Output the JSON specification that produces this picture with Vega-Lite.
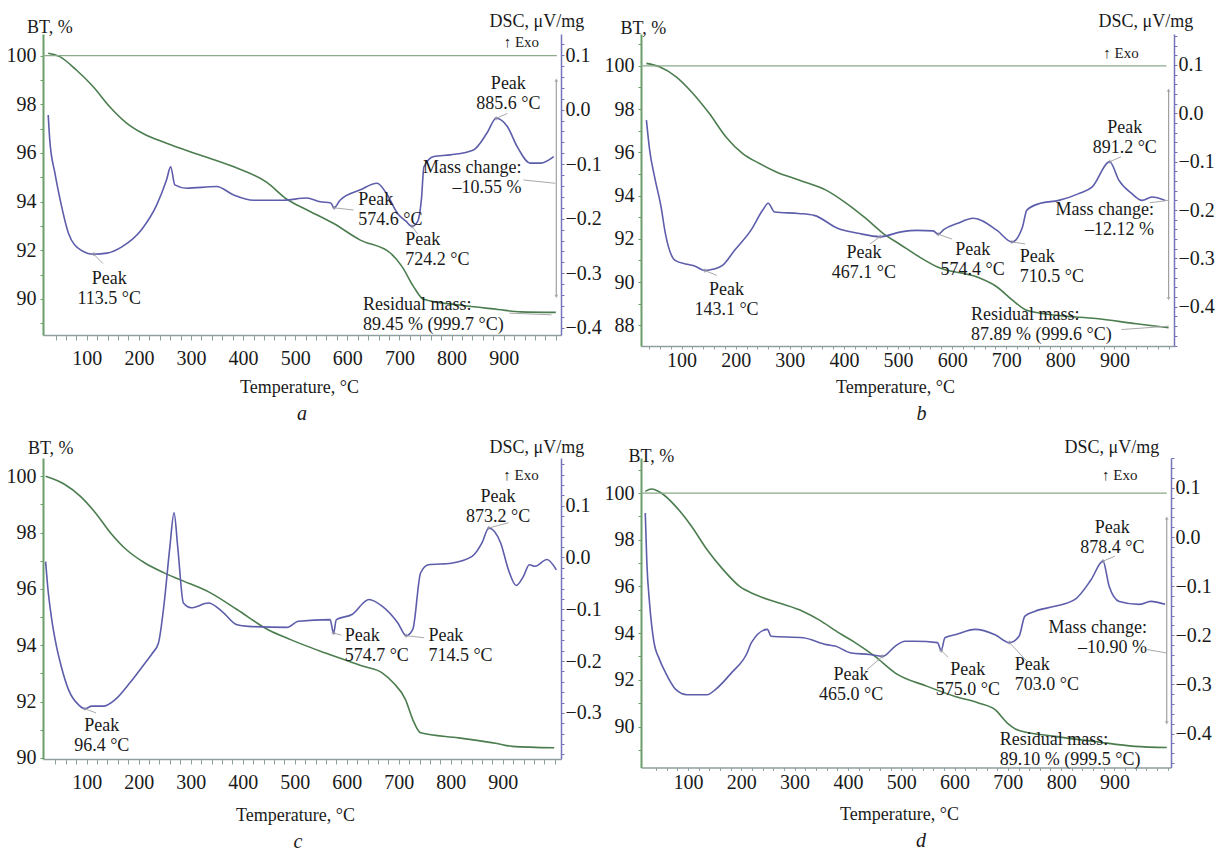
{
  "$schema": "https://vega.github.io/schema/vega-lite/v6.json",
  "background": "white",
  "padding": {"left": 6, "top": 12, "right": 5, "bottom": 0},
  "config": {"view": {"stroke": null}, "font": "Liberation Serif"},
  "bounds": "flush",
  "align": "each",
  "columns": 2,
  "spacing": {"row": 112, "column": 80},
  "concat": [
    {
      "width": 518, "height": 301,
      "title": {"text": "a", "orient": "bottom", "anchor": "middle", "frame": "group", "font": "Liberation Serif", "fontSize": 20, "fontStyle": "italic", "fontWeight": "normal", "color": "#1a1a1a", "baseline": "top", "offset": 8},
      "layer": [
        {
          "encoding": {
            "x": {"field": "T", "type": "quantitative", "scale": {"domain": [16, 1010], "nice": false, "zero": false},
                  "axis": {"title": "Temperature, °C", "titleX": 256, "titleY": 57, "titleBaseline": "alphabetic", "titleFont": "Liberation Serif", "titleFontSize": 18, "titleFontWeight": "normal", "titleColor": "#1a1a1a", "values": [40,60,80,100,120,140,160,180,200,220,240,260,280,300,320,340,360,380,400,420,440,460,480,500,520,540,560,580,600,620,640,660,680,700,720,740,760,780,800,820,840,860,880,900,920,940,960,980,1000], "format": "d", "labelExpr": "datum.value % 100 === 0 && datum.value < 1000 ? datum.label : ''", "labelFont": "Liberation Serif", "labelFontSize": 20, "labelColor": "#1a1a1a", "labelOverlap": false, "labelFlush": false, "labelPadding": 8, "tickSize": 5, "tickColor": "#8f9f9f", "domainColor": "#8f9f9f", "domainWidth": 1.5, "grid": false}},
            "y": {"field": "v", "type": "quantitative", "scale": {"domain": [88.52, 100.89], "nice": false, "zero": false},
                  "axis": {"orient": "left", "title": "BT, %", "titleAngle": 0, "titleAlign": "left", "titleBaseline": "alphabetic", "titleX": -16.5, "titleY": -2, "titleFont": "Liberation Serif", "titleFontSize": 18, "titleFontWeight": "normal", "titleColor": "#1a1a1a", "values": [89,90,91,92,93,94,95,96,97,98,99,100], "format": "d", "labelExpr": "datum.value % 2 === 0 ? datum.label : ''", "labelFont": "Liberation Serif", "labelFontSize": 20, "labelColor": "#1a1a1a", "labelOverlap": false, "labelFlush": false, "labelPadding": 4, "tickSize": 3, "tickColor": "#6a9e6a", "domainColor": "#6a9e6a", "domainWidth": 2, "grid": false}}
          },
          "layer": [
            {"data": {"name": "aBT"}, "mark": {"type": "line", "color": "#4b7d4f", "strokeWidth": 1.6, "interpolate": "monotone"}, "encoding": {}},
            {"data": {"name": "aTop"}, "mark": {"type": "rule", "color": "#8aaa8a", "strokeWidth": 1.3}, "encoding": {"x2": {"field": "T2"}}},
            {"data": {"name": "aMass"}, "mark": {"type": "rule", "color": "#a0a0a0", "strokeWidth": 1.2}, "encoding": {"y2": {"field": "v2"}}},
            {"data": {"name": "aMass"}, "mark": {"type": "point", "shape": "triangle-up", "filled": true, "size": 16, "color": "#a0a0a0"}, "encoding": {}},
            {"data": {"name": "aMass"}, "mark": {"type": "point", "shape": "triangle-down", "filled": true, "size": 16, "color": "#a0a0a0"},
             "encoding": {"y": {"field": "v2", "type": "quantitative", "scale": {"domain": [88.52, 100.89], "nice": false, "zero": false},
                  "axis": {"orient": "left", "title": "BT, %", "titleAngle": 0, "titleAlign": "left", "titleBaseline": "alphabetic", "titleX": -16.5, "titleY": -2, "titleFont": "Liberation Serif", "titleFontSize": 18, "titleFontWeight": "normal", "titleColor": "#1a1a1a", "values": [89,90,91,92,93,94,95,96,97,98,99,100], "format": "d", "labelExpr": "datum.value % 2 === 0 ? datum.label : ''", "labelFont": "Liberation Serif", "labelFontSize": 20, "labelColor": "#1a1a1a", "labelOverlap": false, "labelFlush": false, "labelPadding": 4, "tickSize": 3, "tickColor": "#6a9e6a", "domainColor": "#6a9e6a", "domainWidth": 2, "grid": false}}}}
          ]
        },
        {
          "encoding": {
            "x": {"field": "T", "type": "quantitative", "scale": {"domain": [16, 1010], "nice": false, "zero": false},
                  "axis": {"title": "Temperature, °C", "titleX": 256, "titleY": 57, "titleBaseline": "alphabetic", "titleFont": "Liberation Serif", "titleFontSize": 18, "titleFontWeight": "normal", "titleColor": "#1a1a1a", "values": [40,60,80,100,120,140,160,180,200,220,240,260,280,300,320,340,360,380,400,420,440,460,480,500,520,540,560,580,600,620,640,660,680,700,720,740,760,780,800,820,840,860,880,900,920,940,960,980,1000], "format": "d", "labelExpr": "datum.value % 100 === 0 && datum.value < 1000 ? datum.label : ''", "labelFont": "Liberation Serif", "labelFontSize": 20, "labelColor": "#1a1a1a", "labelOverlap": false, "labelFlush": false, "labelPadding": 8, "tickSize": 5, "tickColor": "#8f9f9f", "domainColor": "#8f9f9f", "domainWidth": 1.5, "grid": false}},
            "y": {"field": "v", "type": "quantitative", "scale": {"domain": [-0.413, 0.1385], "nice": false, "zero": false},
                  "axis": {"orient": "right", "title": "DSC, μV/mg", "titleAngle": 0, "titleAlign": "left", "titleBaseline": "alphabetic", "titleX": -72, "titleY": -8, "titleFont": "Liberation Serif", "titleFontSize": 18, "titleFontWeight": "normal", "titleColor": "#1a1a1a", "values": [-0.4,-0.38,-0.36,-0.34,-0.32,-0.3,-0.28,-0.26,-0.24,-0.22,-0.2,-0.18,-0.16,-0.14,-0.12,-0.1,-0.08,-0.06,-0.04,-0.02,0,0.02,0.04,0.06,0.08,0.1,0.12], "labelExpr": "abs(round(datum.value * 100)) % 10 === 0 ? format(datum.value, '.1f') : ''", "labelFont": "Liberation Serif", "labelFontSize": 20, "labelColor": "#1a1a1a", "labelOverlap": false, "labelFlush": false, "labelPadding": 1, "tickSize": 3, "tickColor": "#7474b8", "domainColor": "#7474b8", "domainWidth": 1.5, "grid": false}}
          },
          "layer": [
            {"data": {"name": "aDSC"}, "mark": {"type": "line", "color": "#5d5dab", "strokeWidth": 1.6, "interpolate": "monotone"}, "encoding": {}},
            {"data": {"name": "aLead"}, "mark": {"type": "rule", "color": "#a8a8a8", "strokeWidth": 1}, "encoding": {"x2": {"field": "T2"}, "y2": {"field": "v2"}}},
            {"data": {"name": "aLead"}, "transform": [{"filter": "datum.pk == 1"}], "mark": {"type": "point", "shape": "cross", "filled": true, "size": 14, "color": "#8a8aa0"}, "encoding": {}},
            {"data": {"name": "aTxtC"}, "mark": {"type": "text", "font": "Liberation Serif", "fontSize": 18, "lineBreak": "\n", "lineHeight": 20, "baseline": "top", "align": "center", "color": "#1a1a1a"}, "encoding": {"text": {"field": "txt", "type": "nominal"}}},
            {"data": {"name": "aTxtL"}, "mark": {"type": "text", "font": "Liberation Serif", "fontSize": 18, "lineBreak": "\n", "lineHeight": 20, "baseline": "top", "align": "left", "color": "#1a1a1a"}, "encoding": {"text": {"field": "txt", "type": "nominal"}}},
            {"data": {"name": "aTxtR"}, "mark": {"type": "text", "font": "Liberation Serif", "fontSize": 18, "lineBreak": "\n", "lineHeight": 20, "baseline": "top", "align": "right", "color": "#1a1a1a"}, "encoding": {"text": {"field": "txt", "type": "nominal"}}},
            {"data": {"name": "aExo"}, "mark": {"type": "text", "font": "Liberation Serif", "fontSize": 15, "baseline": "top", "align": "center", "color": "#1a1a1a"}, "encoding": {"text": {"field": "txt", "type": "nominal"}}}
          ]
        }
      ],
      "resolve": {"scale": {"y": "independent"}}
    },
    {
      "width": 533, "height": 312,
      "title": {"text": "b", "orient": "bottom", "anchor": "middle", "frame": "group", "font": "Liberation Serif", "fontSize": 20, "fontStyle": "italic", "fontWeight": "normal", "color": "#1a1a1a", "baseline": "top", "offset": 8, "dx": 14},
      "layer": [
        {
          "encoding": {
            "x": {"field": "T", "type": "quantitative", "scale": {"domain": [25, 1010], "nice": false, "zero": false},
                  "axis": {"title": "Temperature, °C", "titleX": 254, "titleY": 46, "titleBaseline": "alphabetic", "titleFont": "Liberation Serif", "titleFontSize": 18, "titleFontWeight": "normal", "titleColor": "#1a1a1a", "values": [40,60,80,100,120,140,160,180,200,220,240,260,280,300,320,340,360,380,400,420,440,460,480,500,520,540,560,580,600,620,640,660,680,700,720,740,760,780,800,820,840,860,880,900,920,940,960,980,1000], "format": "d", "labelExpr": "datum.value % 100 === 0 && datum.value < 1000 ? datum.label : ''", "labelFont": "Liberation Serif", "labelFontSize": 20, "labelColor": "#1a1a1a", "labelOverlap": false, "labelFlush": false, "labelPadding": 1, "tickSize": 3, "tickColor": "#8f9f9f", "domainColor": "#8f9f9f", "domainWidth": 1.5, "grid": false}},
            "y": {"field": "v", "type": "quantitative", "scale": {"domain": [87.04, 101.47], "nice": false, "zero": false},
                  "axis": {"orient": "left", "title": "BT, %", "titleAngle": 0, "titleAlign": "left", "titleBaseline": "alphabetic", "titleX": -21, "titleY": -1, "titleFont": "Liberation Serif", "titleFontSize": 18, "titleFontWeight": "normal", "titleColor": "#1a1a1a", "values": [88,89,90,91,92,93,94,95,96,97,98,99,100,101], "format": "d", "labelExpr": "datum.value % 2 === 0 ? datum.label : ''", "labelFont": "Liberation Serif", "labelFontSize": 20, "labelColor": "#1a1a1a", "labelOverlap": false, "labelFlush": false, "labelPadding": 4, "tickSize": 3, "tickColor": "#6a9e6a", "domainColor": "#6a9e6a", "domainWidth": 2, "grid": false}}
          },
          "layer": [
            {"data": {"name": "bBT"}, "mark": {"type": "line", "color": "#4b7d4f", "strokeWidth": 1.6, "interpolate": "monotone"}, "encoding": {}},
            {"data": {"name": "bTop"}, "mark": {"type": "rule", "color": "#8aaa8a", "strokeWidth": 1.3}, "encoding": {"x2": {"field": "T2"}}},
            {"data": {"name": "bMass"}, "mark": {"type": "rule", "color": "#a0a0a0", "strokeWidth": 1.2}, "encoding": {"y2": {"field": "v2"}}},
            {"data": {"name": "bMass"}, "mark": {"type": "point", "shape": "triangle-up", "filled": true, "size": 16, "color": "#a0a0a0"}, "encoding": {}},
            {"data": {"name": "bMass"}, "mark": {"type": "point", "shape": "triangle-down", "filled": true, "size": 16, "color": "#a0a0a0"},
             "encoding": {"y": {"field": "v2", "type": "quantitative", "scale": {"domain": [87.04, 101.47], "nice": false, "zero": false},
                  "axis": {"orient": "left", "title": "BT, %", "titleAngle": 0, "titleAlign": "left", "titleBaseline": "alphabetic", "titleX": -21, "titleY": -1, "titleFont": "Liberation Serif", "titleFontSize": 18, "titleFontWeight": "normal", "titleColor": "#1a1a1a", "values": [88,89,90,91,92,93,94,95,96,97,98,99,100,101], "format": "d", "labelExpr": "datum.value % 2 === 0 ? datum.label : ''", "labelFont": "Liberation Serif", "labelFontSize": 20, "labelColor": "#1a1a1a", "labelOverlap": false, "labelFlush": false, "labelPadding": 4, "tickSize": 3, "tickColor": "#6a9e6a", "domainColor": "#6a9e6a", "domainWidth": 2, "grid": false}}}}
          ]
        },
        {
          "encoding": {
            "x": {"field": "T", "type": "quantitative", "scale": {"domain": [25, 1010], "nice": false, "zero": false},
                  "axis": {"title": "Temperature, °C", "titleX": 254, "titleY": 46, "titleBaseline": "alphabetic", "titleFont": "Liberation Serif", "titleFontSize": 18, "titleFontWeight": "normal", "titleColor": "#1a1a1a", "values": [40,60,80,100,120,140,160,180,200,220,240,260,280,300,320,340,360,380,400,420,440,460,480,500,520,540,560,580,600,620,640,660,680,700,720,740,760,780,800,820,840,860,880,900,920,940,960,980,1000], "format": "d", "labelExpr": "datum.value % 100 === 0 && datum.value < 1000 ? datum.label : ''", "labelFont": "Liberation Serif", "labelFontSize": 20, "labelColor": "#1a1a1a", "labelOverlap": false, "labelFlush": false, "labelPadding": 1, "tickSize": 3, "tickColor": "#8f9f9f", "domainColor": "#8f9f9f", "domainWidth": 1.5, "grid": false}},
            "y": {"field": "v", "type": "quantitative", "scale": {"domain": [-0.481, 0.164], "nice": false, "zero": false},
                  "axis": {"orient": "right", "title": "DSC, μV/mg", "titleAngle": 0, "titleAlign": "left", "titleBaseline": "alphabetic", "titleX": -76, "titleY": -8, "titleFont": "Liberation Serif", "titleFontSize": 18, "titleFontWeight": "normal", "titleColor": "#1a1a1a", "values": [-0.48,-0.46,-0.44,-0.42,-0.4,-0.38,-0.36,-0.34,-0.32,-0.3,-0.28,-0.26,-0.24,-0.22,-0.2,-0.18,-0.16,-0.14,-0.12,-0.1,-0.08,-0.06,-0.04,-0.02,0,0.02,0.04,0.06,0.08,0.1,0.12,0.14,0.16], "labelExpr": "abs(round(datum.value * 100)) % 10 === 0 ? format(datum.value, '.1f') : ''", "labelFont": "Liberation Serif", "labelFontSize": 20, "labelColor": "#1a1a1a", "labelOverlap": false, "labelFlush": false, "labelPadding": 1, "tickSize": 3, "tickColor": "#7474b8", "domainColor": "#7474b8", "domainWidth": 1.5, "grid": false}}
          },
          "layer": [
            {"data": {"name": "bDSC"}, "mark": {"type": "line", "color": "#5d5dab", "strokeWidth": 1.6, "interpolate": "monotone"}, "encoding": {}},
            {"data": {"name": "bLead"}, "mark": {"type": "rule", "color": "#a8a8a8", "strokeWidth": 1}, "encoding": {"x2": {"field": "T2"}, "y2": {"field": "v2"}}},
            {"data": {"name": "bLead"}, "transform": [{"filter": "datum.pk == 1"}], "mark": {"type": "point", "shape": "cross", "filled": true, "size": 14, "color": "#8a8aa0"}, "encoding": {}},
            {"data": {"name": "bTxtC"}, "mark": {"type": "text", "font": "Liberation Serif", "fontSize": 18, "lineBreak": "\n", "lineHeight": 20, "baseline": "top", "align": "center", "color": "#1a1a1a"}, "encoding": {"text": {"field": "txt", "type": "nominal"}}},
            {"data": {"name": "bTxtL"}, "mark": {"type": "text", "font": "Liberation Serif", "fontSize": 18, "lineBreak": "\n", "lineHeight": 20, "baseline": "top", "align": "left", "color": "#1a1a1a"}, "encoding": {"text": {"field": "txt", "type": "nominal"}}},
            {"data": {"name": "bTxtR"}, "mark": {"type": "text", "font": "Liberation Serif", "fontSize": 18, "lineBreak": "\n", "lineHeight": 20, "baseline": "top", "align": "right", "color": "#1a1a1a"}, "encoding": {"text": {"field": "txt", "type": "nominal"}}},
            {"data": {"name": "bExo"}, "mark": {"type": "text", "font": "Liberation Serif", "fontSize": 15, "baseline": "top", "align": "center", "color": "#1a1a1a"}, "encoding": {"text": {"field": "txt", "type": "nominal"}}}
          ]
        }
      ],
      "resolve": {"scale": {"y": "independent"}}
    },
    {
      "width": 518, "height": 301,
      "title": {"text": "c", "orient": "bottom", "anchor": "middle", "frame": "group", "font": "Liberation Serif", "fontSize": 20, "fontStyle": "italic", "fontWeight": "normal", "color": "#1a1a1a", "baseline": "top", "offset": 8, "dx": -4},
      "layer": [
        {
          "encoding": {
            "x": {"field": "T", "type": "quantitative", "scale": {"domain": [16, 1012], "nice": false, "zero": false},
                  "axis": {"title": "Temperature, °C", "titleX": 252, "titleY": 61, "titleBaseline": "alphabetic", "titleFont": "Liberation Serif", "titleFontSize": 18, "titleFontWeight": "normal", "titleColor": "#1a1a1a", "values": [40,60,80,100,120,140,160,180,200,220,240,260,280,300,320,340,360,380,400,420,440,460,480,500,520,540,560,580,600,620,640,660,680,700,720,740,760,780,800,820,840,860,880,900,920,940,960,980,1000], "format": "d", "labelExpr": "datum.value % 100 === 0 && datum.value < 1000 ? datum.label : ''", "labelFont": "Liberation Serif", "labelFontSize": 20, "labelColor": "#1a1a1a", "labelOverlap": false, "labelFlush": false, "labelPadding": 8, "tickSize": 5, "tickColor": "#8f9f9f", "domainColor": "#8f9f9f", "domainWidth": 1.5, "grid": false}},
            "y": {"field": "v", "type": "quantitative", "scale": {"domain": [89.96, 100.65], "nice": false, "zero": false},
                  "axis": {"orient": "left", "title": "BT, %", "titleAngle": 0, "titleAlign": "left", "titleBaseline": "alphabetic", "titleX": -15.6, "titleY": -5, "titleFont": "Liberation Serif", "titleFontSize": 18, "titleFontWeight": "normal", "titleColor": "#1a1a1a", "values": [90,91,92,93,94,95,96,97,98,99,100], "format": "d", "labelExpr": "datum.value % 2 === 0 ? datum.label : ''", "labelFont": "Liberation Serif", "labelFontSize": 20, "labelColor": "#1a1a1a", "labelOverlap": false, "labelFlush": false, "labelPadding": 4, "tickSize": 3, "tickColor": "#6a9e6a", "domainColor": "#6a9e6a", "domainWidth": 2, "grid": false}}
          },
          "layer": [
            {"data": {"name": "cBT"}, "mark": {"type": "line", "color": "#4b7d4f", "strokeWidth": 1.6, "interpolate": "monotone"}, "encoding": {}}
          ]
        },
        {
          "encoding": {
            "x": {"field": "T", "type": "quantitative", "scale": {"domain": [16, 1012], "nice": false, "zero": false},
                  "axis": {"title": "Temperature, °C", "titleX": 252, "titleY": 61, "titleBaseline": "alphabetic", "titleFont": "Liberation Serif", "titleFontSize": 18, "titleFontWeight": "normal", "titleColor": "#1a1a1a", "values": [40,60,80,100,120,140,160,180,200,220,240,260,280,300,320,340,360,380,400,420,440,460,480,500,520,540,560,580,600,620,640,660,680,700,720,740,760,780,800,820,840,860,880,900,920,940,960,980,1000], "format": "d", "labelExpr": "datum.value % 100 === 0 && datum.value < 1000 ? datum.label : ''", "labelFont": "Liberation Serif", "labelFontSize": 20, "labelColor": "#1a1a1a", "labelOverlap": false, "labelFlush": false, "labelPadding": 8, "tickSize": 5, "tickColor": "#8f9f9f", "domainColor": "#8f9f9f", "domainWidth": 1.5, "grid": false}},
            "y": {"field": "v", "type": "quantitative", "scale": {"domain": [-0.389, 0.192], "nice": false, "zero": false},
                  "axis": {"orient": "right", "title": "DSC, μV/mg", "titleAngle": 0, "titleAlign": "left", "titleBaseline": "alphabetic", "titleX": -72, "titleY": -6, "titleFont": "Liberation Serif", "titleFontSize": 18, "titleFontWeight": "normal", "titleColor": "#1a1a1a", "values": [-0.38,-0.36,-0.34,-0.32,-0.3,-0.28,-0.26,-0.24,-0.22,-0.2,-0.18,-0.16,-0.14,-0.12,-0.1,-0.08,-0.06,-0.04,-0.02,0,0.02,0.04,0.06,0.08,0.1,0.12,0.14,0.16,0.18], "labelExpr": "abs(round(datum.value * 100)) % 10 === 0 ? format(datum.value, '.1f') : ''", "labelFont": "Liberation Serif", "labelFontSize": 20, "labelColor": "#1a1a1a", "labelOverlap": false, "labelFlush": false, "labelPadding": 1, "tickSize": 3, "tickColor": "#7474b8", "domainColor": "#7474b8", "domainWidth": 1.5, "grid": false}}
          },
          "layer": [
            {"data": {"name": "cDSC"}, "mark": {"type": "line", "color": "#5d5dab", "strokeWidth": 1.6, "interpolate": "monotone"}, "encoding": {}},
            {"data": {"name": "cLead"}, "mark": {"type": "rule", "color": "#a8a8a8", "strokeWidth": 1}, "encoding": {"x2": {"field": "T2"}, "y2": {"field": "v2"}}},
            {"data": {"name": "cLead"}, "transform": [{"filter": "datum.pk == 1"}], "mark": {"type": "point", "shape": "cross", "filled": true, "size": 14, "color": "#8a8aa0"}, "encoding": {}},
            {"data": {"name": "cTxtC"}, "mark": {"type": "text", "font": "Liberation Serif", "fontSize": 18, "lineBreak": "\n", "lineHeight": 20, "baseline": "top", "align": "center", "color": "#1a1a1a"}, "encoding": {"text": {"field": "txt", "type": "nominal"}}},
            {"data": {"name": "cTxtL"}, "mark": {"type": "text", "font": "Liberation Serif", "fontSize": 18, "lineBreak": "\n", "lineHeight": 20, "baseline": "top", "align": "left", "color": "#1a1a1a"}, "encoding": {"text": {"field": "txt", "type": "nominal"}}},
            {"data": {"name": "cExo"}, "mark": {"type": "text", "font": "Liberation Serif", "fontSize": 15, "baseline": "top", "align": "center", "color": "#1a1a1a"}, "encoding": {"text": {"field": "txt", "type": "nominal"}}}
          ]
        }
      ],
      "resolve": {"scale": {"y": "independent"}}
    },
    {
      "width": 530, "height": 309.4,
      "title": {"text": "d", "orient": "bottom", "anchor": "middle", "frame": "group", "font": "Liberation Serif", "fontSize": 20, "fontStyle": "italic", "fontWeight": "normal", "color": "#1a1a1a", "baseline": "top", "offset": 8, "dx": 15},
      "layer": [
        {
          "encoding": {
            "x": {"field": "T", "type": "quantitative", "scale": {"domain": [12, 1006], "nice": false, "zero": false},
                  "axis": {"title": "Temperature, °C", "titleX": 258, "titleY": 52, "titleBaseline": "alphabetic", "titleFont": "Liberation Serif", "titleFontSize": 18, "titleFontWeight": "normal", "titleColor": "#1a1a1a", "values": [40,60,80,100,120,140,160,180,200,220,240,260,280,300,320,340,360,380,400,420,440,460,480,500,520,540,560,580,600,620,640,660,680,700,720,740,760,780,800,820,840,860,880,900,920,940,960,980,1000], "format": "d", "labelExpr": "datum.value % 100 === 0 && datum.value < 1000 ? datum.label : ''", "labelFont": "Liberation Serif", "labelFontSize": 20, "labelColor": "#1a1a1a", "labelOverlap": false, "labelFlush": false, "labelPadding": 2, "tickSize": 3, "tickColor": "#8f9f9f", "domainColor": "#8f9f9f", "domainWidth": 1.5, "grid": false}},
            "y": {"field": "v", "type": "quantitative", "scale": {"domain": [88.25, 101.5], "nice": false, "zero": false},
                  "axis": {"orient": "left", "title": "BT, %", "titleAngle": 0, "titleAlign": "left", "titleBaseline": "alphabetic", "titleX": -13, "titleY": 3, "titleFont": "Liberation Serif", "titleFontSize": 18, "titleFontWeight": "normal", "titleColor": "#1a1a1a", "values": [89,90,91,92,93,94,95,96,97,98,99,100,101], "format": "d", "labelExpr": "datum.value % 2 === 0 ? datum.label : ''", "labelFont": "Liberation Serif", "labelFontSize": 20, "labelColor": "#1a1a1a", "labelOverlap": false, "labelFlush": false, "labelPadding": 4, "tickSize": 3, "tickColor": "#6a9e6a", "domainColor": "#6a9e6a", "domainWidth": 2, "grid": false}}
          },
          "layer": [
            {"data": {"name": "dBT"}, "mark": {"type": "line", "color": "#4b7d4f", "strokeWidth": 1.6, "interpolate": "monotone"}, "encoding": {}},
            {"data": {"name": "dTop"}, "mark": {"type": "rule", "color": "#8aaa8a", "strokeWidth": 1.3}, "encoding": {"x2": {"field": "T2"}}},
            {"data": {"name": "dMass"}, "mark": {"type": "rule", "color": "#a0a0a0", "strokeWidth": 1.2}, "encoding": {"y2": {"field": "v2"}}},
            {"data": {"name": "dMass"}, "mark": {"type": "point", "shape": "triangle-up", "filled": true, "size": 16, "color": "#a0a0a0"}, "encoding": {}},
            {"data": {"name": "dMass"}, "mark": {"type": "point", "shape": "triangle-down", "filled": true, "size": 16, "color": "#a0a0a0"},
             "encoding": {"y": {"field": "v2", "type": "quantitative", "scale": {"domain": [88.25, 101.5], "nice": false, "zero": false},
                  "axis": {"orient": "left", "title": "BT, %", "titleAngle": 0, "titleAlign": "left", "titleBaseline": "alphabetic", "titleX": -13, "titleY": 3, "titleFont": "Liberation Serif", "titleFontSize": 18, "titleFontWeight": "normal", "titleColor": "#1a1a1a", "values": [89,90,91,92,93,94,95,96,97,98,99,100,101], "format": "d", "labelExpr": "datum.value % 2 === 0 ? datum.label : ''", "labelFont": "Liberation Serif", "labelFontSize": 20, "labelColor": "#1a1a1a", "labelOverlap": false, "labelFlush": false, "labelPadding": 4, "tickSize": 3, "tickColor": "#6a9e6a", "domainColor": "#6a9e6a", "domainWidth": 2, "grid": false}}}}
          ]
        },
        {
          "encoding": {
            "x": {"field": "T", "type": "quantitative", "scale": {"domain": [12, 1006], "nice": false, "zero": false},
                  "axis": {"title": "Temperature, °C", "titleX": 258, "titleY": 52, "titleBaseline": "alphabetic", "titleFont": "Liberation Serif", "titleFontSize": 18, "titleFontWeight": "normal", "titleColor": "#1a1a1a", "values": [40,60,80,100,120,140,160,180,200,220,240,260,280,300,320,340,360,380,400,420,440,460,480,500,520,540,560,580,600,620,640,660,680,700,720,740,760,780,800,820,840,860,880,900,920,940,960,980,1000], "format": "d", "labelExpr": "datum.value % 100 === 0 && datum.value < 1000 ? datum.label : ''", "labelFont": "Liberation Serif", "labelFontSize": 20, "labelColor": "#1a1a1a", "labelOverlap": false, "labelFlush": false, "labelPadding": 2, "tickSize": 3, "tickColor": "#8f9f9f", "domainColor": "#8f9f9f", "domainWidth": 1.5, "grid": false}},
            "y": {"field": "v", "type": "quantitative", "scale": {"domain": [-0.469, 0.161], "nice": false, "zero": false},
                  "axis": {"orient": "right", "title": "DSC, μV/mg", "titleAngle": 0, "titleAlign": "left", "titleBaseline": "alphabetic", "titleX": -107, "titleY": -6, "titleFont": "Liberation Serif", "titleFontSize": 18, "titleFontWeight": "normal", "titleColor": "#1a1a1a", "values": [-0.46,-0.44,-0.42,-0.4,-0.38,-0.36,-0.34,-0.32,-0.3,-0.28,-0.26,-0.24,-0.22,-0.2,-0.18,-0.16,-0.14,-0.12,-0.1,-0.08,-0.06,-0.04,-0.02,0,0.02,0.04,0.06,0.08,0.1,0.12,0.14,0.16], "labelExpr": "abs(round(datum.value * 100)) % 10 === 0 ? format(datum.value, '.1f') : ''", "labelFont": "Liberation Serif", "labelFontSize": 20, "labelColor": "#1a1a1a", "labelOverlap": false, "labelFlush": false, "labelPadding": 1, "tickSize": 3, "tickColor": "#7474b8", "domainColor": "#7474b8", "domainWidth": 1.5, "grid": false}}
          },
          "layer": [
            {"data": {"name": "dDSC"}, "mark": {"type": "line", "color": "#5d5dab", "strokeWidth": 1.6, "interpolate": "monotone"}, "encoding": {}},
            {"data": {"name": "dLead"}, "mark": {"type": "rule", "color": "#a8a8a8", "strokeWidth": 1}, "encoding": {"x2": {"field": "T2"}, "y2": {"field": "v2"}}},
            {"data": {"name": "dLead"}, "transform": [{"filter": "datum.pk == 1"}], "mark": {"type": "point", "shape": "cross", "filled": true, "size": 14, "color": "#8a8aa0"}, "encoding": {}},
            {"data": {"name": "dTxtC"}, "mark": {"type": "text", "font": "Liberation Serif", "fontSize": 18, "lineBreak": "\n", "lineHeight": 20, "baseline": "top", "align": "center", "color": "#1a1a1a"}, "encoding": {"text": {"field": "txt", "type": "nominal"}}},
            {"data": {"name": "dTxtL"}, "mark": {"type": "text", "font": "Liberation Serif", "fontSize": 18, "lineBreak": "\n", "lineHeight": 20, "baseline": "top", "align": "left", "color": "#1a1a1a"}, "encoding": {"text": {"field": "txt", "type": "nominal"}}},
            {"data": {"name": "dTxtR"}, "mark": {"type": "text", "font": "Liberation Serif", "fontSize": 18, "lineBreak": "\n", "lineHeight": 20, "baseline": "top", "align": "right", "color": "#1a1a1a"}, "encoding": {"text": {"field": "txt", "type": "nominal"}}},
            {"data": {"name": "dExo"}, "mark": {"type": "text", "font": "Liberation Serif", "fontSize": 15, "baseline": "top", "align": "center", "color": "#1a1a1a"}, "encoding": {"text": {"field": "txt", "type": "nominal"}}}
          ]
        }
      ],
      "resolve": {"scale": {"y": "independent"}}
    }
  ],
  "datasets": {
    "aBT": [{"T":26,"v":100.1},{"T":48,"v":99.96},{"T":80,"v":99.41},{"T":112,"v":98.73},{"T":144,"v":97.9},{"T":177,"v":97.22},{"T":208,"v":96.8},{"T":253,"v":96.4},{"T":317,"v":95.92},{"T":381,"v":95.44},{"T":445,"v":94.8},{"T":484,"v":94.1},{"T":521,"v":93.68},{"T":573,"v":93.11},{"T":624,"v":92.43},{"T":683,"v":91.88},{"T":705,"v":91.33},{"T":727,"v":90.51},{"T":746,"v":89.99},{"T":815,"v":89.75},{"T":889,"v":89.57},{"T":933,"v":89.47},{"T":1000,"v":89.45}],
    "aDSC": [{"T":26,"v":-0.01},{"T":29,"v":-0.056},{"T":39,"v":-0.117},{"T":50,"v":-0.17},{"T":65,"v":-0.227},{"T":88,"v":-0.257},{"T":113.5,"v":-0.265},{"T":139,"v":-0.263},{"T":168,"v":-0.251},{"T":205,"v":-0.22},{"T":234,"v":-0.175},{"T":253,"v":-0.129},{"T":261,"v":-0.105},{"T":269,"v":-0.138},{"T":291,"v":-0.144},{"T":349,"v":-0.141},{"T":381,"v":-0.156},{"T":420,"v":-0.166},{"T":477,"v":-0.166},{"T":522,"v":-0.162},{"T":548,"v":-0.169},{"T":568,"v":-0.171},{"T":574.6,"v":-0.18},{"T":586,"v":-0.166},{"T":625,"v":-0.147},{"T":657,"v":-0.135},{"T":676,"v":-0.155},{"T":696,"v":-0.19},{"T":713,"v":-0.205},{"T":724.2,"v":-0.214},{"T":735,"v":-0.205},{"T":742,"v":-0.166},{"T":747,"v":-0.105},{"T":766,"v":-0.086},{"T":798,"v":-0.083},{"T":842,"v":-0.074},{"T":868,"v":-0.043},{"T":885.6,"v":-0.016},{"T":907,"v":-0.031},{"T":926,"v":-0.068},{"T":951,"v":-0.098},{"T":971,"v":-0.098},{"T":996,"v":-0.086}],
    "aTop": [{"T":16,"T2":1002,"v":100}],
    "aMass": [{"T":1001,"v":99.0,"v2":90.1}],
    "aLead": [{"T":113.5,"v":-0.265,"T2":131,"v2":-0.282,"pk":1},{"T":574.6,"v":-0.18,"T2":612,"v2":-0.184,"pk":1},{"T":724.2,"v":-0.214,"T2":735,"v2":-0.228,"pk":1},{"T":885.6,"v":-0.016,"T2":907,"v2":-0.007,"pk":1},{"T":938,"v":-0.129,"T2":999,"v2":-0.135,"pk":0},{"T":911,"v":-0.373,"T2":992,"v2":-0.376,"pk":0}],
    "aTxtC": [{"T":143,"v":-0.293,"txt":"Peak\n113.5 °C"},{"T":909,"v":0.064,"txt":"Peak\n885.6 °C"}],
    "aTxtL": [{"T":621,"v":-0.149,"txt":"Peak\n574.6 °C"},{"T":711,"v":-0.222,"txt":"Peak\n724.2 °C"},{"T":630,"v":-0.341,"txt":"Residual mass:\n89.45 % (999.7 °C)"}],
    "aTxtR": [{"T":934,"v":-0.091,"txt":"Mass change:\n–10.55 %"}],
    "aExo": [{"T":934,"v":0.137,"txt":"↑ Exo"}],
    "bBT": [{"T":35,"v":100.11},{"T":59,"v":99.95},{"T":90,"v":99.49},{"T":121,"v":98.72},{"T":151,"v":97.8},{"T":182,"v":96.71},{"T":213,"v":95.94},{"T":244,"v":95.48},{"T":275,"v":95.09},{"T":318,"v":94.71},{"T":367,"v":94.25},{"T":404,"v":93.65},{"T":440,"v":92.95},{"T":470,"v":92.3},{"T":506,"v":91.7},{"T":540,"v":91.15},{"T":573,"v":90.69},{"T":646,"v":90.23},{"T":683,"v":89.77},{"T":712,"v":89.15},{"T":738,"v":88.69},{"T":793,"v":88.46},{"T":866,"v":88.31},{"T":940,"v":88.07},{"T":1000,"v":87.89}],
    "bDSC": [{"T":35,"v":-0.014},{"T":41,"v":-0.076},{"T":50,"v":-0.131},{"T":62,"v":-0.193},{"T":70,"v":-0.248},{"T":88,"v":-0.304},{"T":110,"v":-0.312},{"T":125,"v":-0.316},{"T":143.1,"v":-0.325},{"T":160,"v":-0.322},{"T":175,"v":-0.315},{"T":198,"v":-0.283},{"T":228,"v":-0.242},{"T":250,"v":-0.2},{"T":260,"v":-0.186},{"T":272,"v":-0.204},{"T":316,"v":-0.207},{"T":345,"v":-0.211},{"T":389,"v":-0.238},{"T":426,"v":-0.248},{"T":467.1,"v":-0.255},{"T":506,"v":-0.245},{"T":536,"v":-0.242},{"T":565,"v":-0.243},{"T":574.4,"v":-0.25},{"T":585,"v":-0.24},{"T":609,"v":-0.228},{"T":639,"v":-0.217},{"T":683,"v":-0.242},{"T":710.5,"v":-0.266},{"T":730,"v":-0.235},{"T":738,"v":-0.2},{"T":763,"v":-0.186},{"T":797,"v":-0.18},{"T":834,"v":-0.166},{"T":859,"v":-0.152},{"T":891.2,"v":-0.1},{"T":908,"v":-0.138},{"T":932,"v":-0.166},{"T":951,"v":-0.18},{"T":969,"v":-0.173},{"T":994,"v":-0.18}],
    "bTop": [{"T":25,"T2":996,"v":100}],
    "bMass": [{"T":1000,"v":98.88,"v2":89.23}],
    "bLead": [{"T":143.1,"v":-0.325,"T2":165,"v2":-0.335,"pk":1},{"T":467.1,"v":-0.255,"T2":448,"v2":-0.27,"pk":1},{"T":574.4,"v":-0.25,"T2":600,"v2":-0.26,"pk":1},{"T":710.5,"v":-0.266,"T2":735,"v2":-0.27,"pk":1},{"T":891.2,"v":-0.1,"T2":912,"v2":-0.09,"pk":1},{"T":965,"v":-0.185,"T2":999,"v2":-0.18,"pk":0},{"T":913,"v":-0.447,"T2":1000,"v2":-0.44,"pk":0}],
    "bTxtC": [{"T":183,"v":-0.347,"txt":"Peak\n143.1 °C"},{"T":437,"v":-0.271,"txt":"Peak\n467.1 °C"},{"T":638,"v":-0.264,"txt":"Peak\n574.4 °C"},{"T":919,"v":-0.012,"txt":"Peak\n891.2 °C"}],
    "bTxtL": [{"T":725,"v":-0.278,"txt":"Peak\n710.5 °C"},{"T":635,"v":-0.399,"txt":"Residual mass:\n87.89 % (999.6 °C)"}],
    "bTxtR": [{"T":973,"v":-0.181,"txt":"Mass change:\n–12.12 %"}],
    "bExo": [{"T":912,"v":0.139,"txt":"↑ Exo"}],
    "cBT": [{"T":21,"v":100.0},{"T":58,"v":99.71},{"T":88,"v":99.29},{"T":117,"v":98.7},{"T":146,"v":97.99},{"T":176,"v":97.4},{"T":212,"v":96.92},{"T":249,"v":96.57},{"T":279,"v":96.33},{"T":338,"v":95.86},{"T":389,"v":95.27},{"T":448,"v":94.56},{"T":492,"v":94.2},{"T":558,"v":93.73},{"T":632,"v":93.25},{"T":668,"v":93.02},{"T":690,"v":92.66},{"T":713,"v":92.07},{"T":727,"v":91.36},{"T":742,"v":90.89},{"T":815,"v":90.71},{"T":889,"v":90.51},{"T":918,"v":90.41},{"T":999,"v":90.36}],
    "cDSC": [{"T":21,"v":-0.008},{"T":25,"v":-0.056},{"T":32,"v":-0.114},{"T":40,"v":-0.162},{"T":51,"v":-0.21},{"T":65,"v":-0.255},{"T":85,"v":-0.285},{"T":96.4,"v":-0.292},{"T":110,"v":-0.287},{"T":132,"v":-0.287},{"T":154,"v":-0.275},{"T":183,"v":-0.242},{"T":212,"v":-0.204},{"T":227,"v":-0.184},{"T":238,"v":-0.165},{"T":249,"v":-0.088},{"T":260,"v":0.021},{"T":268,"v":0.086},{"T":275,"v":0.021},{"T":286,"v":-0.088},{"T":301,"v":-0.097},{"T":334,"v":-0.088},{"T":360,"v":-0.104},{"T":389,"v":-0.13},{"T":411,"v":-0.133},{"T":485,"v":-0.135},{"T":507,"v":-0.123},{"T":568,"v":-0.12},{"T":574.7,"v":-0.146},{"T":580,"v":-0.12},{"T":610,"v":-0.11},{"T":643,"v":-0.081},{"T":668,"v":-0.094},{"T":698,"v":-0.126},{"T":714.5,"v":-0.151},{"T":727,"v":-0.139},{"T":742,"v":-0.03},{"T":757,"v":-0.014},{"T":801,"v":-0.011},{"T":841,"v":0.002},{"T":860,"v":0.028},{"T":873.2,"v":0.057},{"T":896,"v":0.028},{"T":911,"v":-0.024},{"T":926,"v":-0.054},{"T":940,"v":-0.036},{"T":951,"v":-0.014},{"T":962,"v":-0.017},{"T":985,"v":-0.004},{"T":1003,"v":-0.024}],
    "cLead": [{"T":96.4,"v":-0.292,"T2":118,"v2":-0.3,"pk":1},{"T":574.7,"v":-0.146,"T2":590,"v2":-0.15,"pk":1},{"T":714.5,"v":-0.151,"T2":749,"v2":-0.155,"pk":1},{"T":873.2,"v":0.057,"T2":911,"v2":0.067,"pk":1}],
    "cTxtC": [{"T":129,"v":-0.307,"txt":"Peak\n96.4 °C"},{"T":891,"v":0.135,"txt":"Peak\n873.2 °C"}],
    "cTxtL": [{"T":596,"v":-0.135,"txt":"Peak\n574.7 °C"},{"T":757,"v":-0.135,"txt":"Peak\n714.5 °C"}],
    "cExo": [{"T":935,"v":0.173,"txt":"↑ Exo"}],
    "dBT": [{"T":20,"v":100.07},{"T":32,"v":100.17},{"T":50,"v":100.0},{"T":77,"v":99.43},{"T":107,"v":98.57},{"T":136,"v":97.57},{"T":166,"v":96.72},{"T":197,"v":96.0},{"T":227,"v":95.64},{"T":271,"v":95.29},{"T":316,"v":94.93},{"T":346,"v":94.57},{"T":384,"v":94.0},{"T":410,"v":93.65},{"T":451,"v":93.0},{"T":489,"v":92.29},{"T":549,"v":91.72},{"T":601,"v":91.29},{"T":646,"v":91.0},{"T":676,"v":90.72},{"T":699,"v":90.15},{"T":721,"v":89.83},{"T":788,"v":89.58},{"T":863,"v":89.36},{"T":938,"v":89.15},{"T":998,"v":89.1}],
    "dDSC": [{"T":20,"v":0.049},{"T":23,"v":-0.053},{"T":28,"v":-0.134},{"T":36,"v":-0.212},{"T":47,"v":-0.25},{"T":58,"v":-0.276},{"T":77,"v":-0.31},{"T":99,"v":-0.321},{"T":136,"v":-0.321},{"T":152,"v":-0.31},{"T":182,"v":-0.276},{"T":211,"v":-0.236},{"T":219,"v":-0.215},{"T":249,"v":-0.188},{"T":256,"v":-0.202},{"T":316,"v":-0.205},{"T":360,"v":-0.219},{"T":376,"v":-0.222},{"T":406,"v":-0.236},{"T":440,"v":-0.239},{"T":465,"v":-0.243},{"T":489,"v":-0.222},{"T":507,"v":-0.212},{"T":526,"v":-0.212},{"T":568,"v":-0.215},{"T":575,"v":-0.231},{"T":582,"v":-0.205},{"T":601,"v":-0.199},{"T":639,"v":-0.188},{"T":676,"v":-0.199},{"T":703,"v":-0.215},{"T":721,"v":-0.202},{"T":732,"v":-0.161},{"T":751,"v":-0.151},{"T":788,"v":-0.141},{"T":826,"v":-0.127},{"T":856,"v":-0.087},{"T":878.4,"v":-0.049},{"T":890,"v":-0.1},{"T":909,"v":-0.131},{"T":946,"v":-0.137},{"T":968,"v":-0.131},{"T":995,"v":-0.137}],
    "dTop": [{"T":12,"T2":998,"v":100}],
    "dMass": [{"T":998,"v":98.93,"v2":90.15}],
    "dLead": [{"T":465,"v":-0.243,"T2":436,"v2":-0.27,"pk":1},{"T":575,"v":-0.231,"T2":588,"v2":-0.245,"pk":1},{"T":703,"v":-0.215,"T2":736,"v2":-0.253,"pk":1},{"T":878.4,"v":-0.049,"T2":901,"v2":-0.039,"pk":1},{"T":961,"v":-0.229,"T2":998,"v2":-0.236,"pk":0}],
    "dTxtC": [{"T":406,"v":-0.262,"txt":"Peak\n465.0 °C"},{"T":625,"v":-0.252,"txt":"Peak\n575.0 °C"},{"T":896,"v":0.036,"txt":"Peak\n878.4 °C"}],
    "dTxtL": [{"T":713,"v":-0.242,"txt":"Peak\n703.0 °C"},{"T":685,"v":-0.395,"txt":"Residual mass:\n89.10 % (999.5 °C)"}],
    "dTxtR": [{"T":961,"v":-0.167,"txt":"Mass change:\n–10.90 %"}],
    "dExo": [{"T":910,"v":0.141,"txt":"↑ Exo"}]
  }
}
